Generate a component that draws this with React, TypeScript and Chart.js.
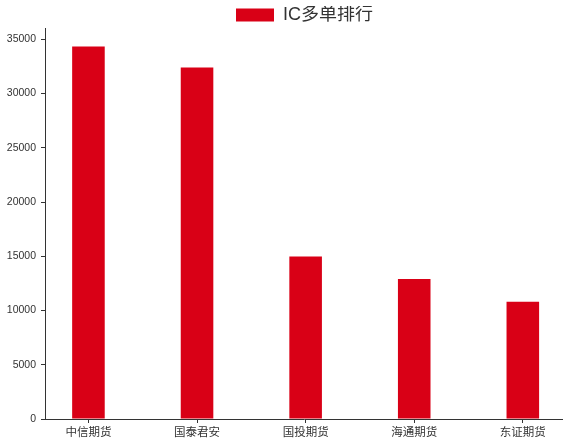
import React, { useEffect, useRef } from "react";
import { Chart, registerables } from "chart.js";

Chart.register(...registerables);

const categories = ["中信期货", "国泰君安", "国投期货", "海通期货", "东证期货"];
const seriesName = "IC多单排行";
const values = [34330, 32400, 14990, 12900, 10810];
const yTicks = [0, 5000, 10000, 15000, 20000, 25000, 30000, 35000];

const FONT = "'Liberation Sans', 'Noto Sans CJK SC', sans-serif";

const legendShift = {
  id: "legendShift",
  afterLayout(chart: any) {
    const lg = chart.legend;
    if (!lg) return;
    lg.top += 6;
    lg.bottom += 6;
    lg.left += 23;
    lg.right += 23;
  },
};

export default function App() {
  const ref = useRef<HTMLCanvasElement | null>(null);

  useEffect(() => {
    if (!ref.current) return;
    const chart = new Chart(ref.current, {
      type: "bar",
      data: {
        datasets: [
          {
            label: seriesName,
            data: values.map((v, i) => ({ x: i, y: v })),
            backgroundColor: "#d90016",
            borderWidth: 0,
            barPercentage: 0.3,
            categoryPercentage: 1,
          },
        ],
      },
      plugins: [legendShift],
      options: {
        responsive: false,
        animation: false,
        devicePixelRatio: 1,
        layout: { padding: { top: 0, right: 0, left: 0, bottom: 0 } },
        plugins: {
          legend: {
            display: true,
            position: "top",
            labels: {
              boxWidth: 38,
              boxHeight: 13,
              padding: 0,
              color: "#333",
              font: { family: FONT, size: 18 },
            },
          },
          tooltip: { enabled: false },
        },
        scales: {
          x: {
            type: "linear",
            offset: false,
            min: -0.4,
            max: values.length - 1 + 0.37,
            afterBuildTicks: (scale: any) => {
              scale.ticks = categories.map((_, i) => ({ value: i }));
            },
            afterFit: (scale: any) => {
              scale.height = 22;
            },
            ticks: {
              autoSkip: false,
              maxRotation: 0,
              padding: 3,
              color: "#333",
              font: { family: FONT, size: 11.5 },
              callback: (v: any) => categories[v as number] ?? "",
            },
            grid: {
              offset: false,
              drawOnChartArea: false,
              drawTicks: true,
              tickLength: 4,
              color: "#333",
            },
            border: { display: true, color: "#333", width: 1 },
          },
          y: {
            type: "linear",
            min: 0,
            max: Math.max(...values) * 1.05,
            afterBuildTicks: (scale: any) => {
              scale.ticks = yTicks.map((v) => ({ value: v }));
            },
            afterFit: (scale: any) => {
              scale.width = 45;
            },
            ticks: {
              padding: 5,
              color: "#333",
              font: { family: FONT, size: 10.5 },
              callback: (v: any) => String(v),
            },
            grid: {
              drawOnChartArea: false,
              drawTicks: true,
              tickLength: 4,
              color: "#333",
            },
            border: { display: true, color: "#333", width: 1 },
          },
        },
      },
    });
    return () => chart.destroy();
  }, []);

  return (
    <div style={{ position: "fixed", left: 0, top: 0, width: 563, height: 441, background: "#fff" }}>
      <canvas ref={ref} width={563} height={441} style={{ width: 563, height: 441 }} />
    </div>
  );
}
